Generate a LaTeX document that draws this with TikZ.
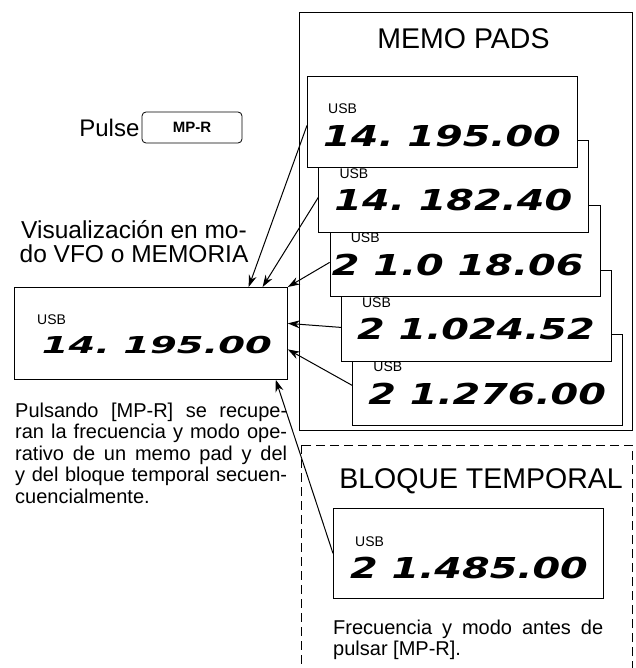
\documentclass[tikz,border=0pt]{standalone}
\usepackage{fontspec}
\setmainfont{Liberation Sans}
\newfontfamily\segfont{DejaVu Sans}[FakeStretch=1.38]
\newfontfamily\segfontwide{DejaVu Sans}[FakeStretch=1.65]
\usetikzlibrary{positioning,calc,arrows.meta}

\newcommand*{\padw}{270pt}
\newcommand*{\padh}{91pt}
\newcommand*{\padstepx}{11.3}
\newcommand*{\padstepy}{64.5}

\begin{document}
\begin{tikzpicture}
[
	x=1pt,y=-1pt,
	display/.style={draw,fill=white,line width=0.8pt,anchor=north west,inner sep=0pt,minimum width=\padw,minimum height=\padh},
	usblabel/.style={anchor=west,inner sep=0pt,font=\fontsize{14}{14}\selectfont},
	freq/.style={anchor=east,inner sep=0pt,font=\segfont\bfseries\itshape\fontsize{28.8}{28.8}\selectfont\frenchspacing},
	freqwide/.style={freq,font=\segfontwide\bfseries\itshape\fontsize{23.3}{23.3}\selectfont\frenchspacing},
	boxtitle/.style={anchor=base,inner sep=0pt,font=\fontsize{28.5}{30}\selectfont},
	note/.style={anchor=north west,inner sep=0pt,text width=#1,align=justify,font=\fontsize{20}{21.5}\selectfont},
	recall/.style={-{Stealth[length=12pt,width=8pt]},line width=1pt}
]

	\useasboundingbox (0,0) rectangle (635,668);

	% memo pads
	\draw[line width=0.8pt] (299,12) rectangle (632,430);
	\node[boxtitle] (memotitle) at (463.5,49) {MEMO PADS};
	\foreach \i/\f in {5/{2 1.276.00},4/{2 1.024.52},3/{2 1.0 18.06},2/{14. 182.40},1/{14. 195.00}} {
		\node[display] (pad\i) at ({307+(\i-1)*\padstepx},{76+(\i-1)*\padstepy}) {};
		\node[usblabel] at ($(pad\i.north west)+(21,33)$) {USB};
		\node[freq] at ($(pad\i.north west)+(254,60)$) {\f};
	}

	% bloque temporal
	\draw[line width=0.8pt,dash pattern=on 9pt off 5pt] (301,445) rectangle (632,700);
	\node[boxtitle] (temptitle) at (481,488) {BLOQUE TEMPORAL};
	\node[display,minimum height=90pt] (temp) at (333,508) {};
	\node[usblabel] at ($(temp.north west)+(22,34)$) {USB};
	\node[freq] at ($(temp.north west)+(255,60)$) {2 1.485.00};
	\node[note=270pt] (tempnote) at (333,619.7) {Frecuencia y modo antes de\linebreak pulsar [MP-R].};

	% vfo / memoria
	\node[display,minimum width=273pt,minimum height=92pt] (vfo) at (14,287) {};
	\node[usblabel] at ($(vfo.north west)+(23,33)$) {USB};
	\node[freqwide] at ($(vfo.north west)+(258,58)$) {14. 195.00};
	\node[anchor=north,align=center,inner sep=0pt,font=\fontsize{24.5}{24.5}\selectfont] (vfonote) at (134,220) {Visualización en mo-\\do VFO o MEMORIA};

	% pulse
	\node[draw,rounded corners=4pt,line width=0.8pt,minimum width=100pt,minimum height=31pt,inner sep=0pt,font=\bfseries\fontsize{15}{15}\selectfont] (mpr) at (192,127.5) {MP-R};
	\node[left=2pt of mpr,inner sep=0pt,font=\fontsize{24}{24}\selectfont] (pulse) {Pulse};

	\node[note=272pt] (recallnote) at (15,402.4) {Pulsando [MP-R] se recupe-\linebreak ran la frecuencia y modo ope-\linebreak rativo de un memo pad y del\linebreak y del bloque temporal secuen-\linebreak cuencialmente.};

	% arrows
	\draw[recall] ([yshift=-3.5pt]pad1.west) -- ($(vfo.north west)!0.857!(vfo.north east)$);
	\draw[recall] ([yshift=-11pt]pad2.west) -- ($(vfo.north west)!0.908!(vfo.north east)$);
	\draw[recall] ([yshift=-11.5pt]pad3.west) -- (vfo.north east);
	\draw[recall] ([yshift=-12pt]pad4.west) -- ([yshift=10pt]vfo.east);
	\draw[recall] ([yshift=-5.5pt]pad5.west) -- ([yshift=-16pt]vfo.east);
	\draw[recall] (temp.west) -- ($(vfo.south west)!0.956!(vfo.south east)$);

\end{tikzpicture}
\end{document}
